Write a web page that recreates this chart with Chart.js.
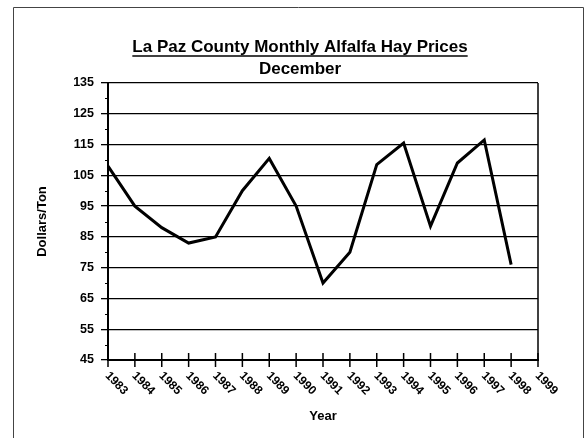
<!DOCTYPE html>
<html>
<head>
<meta charset="utf-8">
<script src="https://cdn.jsdelivr.net/npm/chart.js@4/dist/chart.umd.min.js"></script>
<style>
  html, body { margin: 0; padding: 0; background: #fff; }
  #wrap { width: 585px; height: 438px; }
</style>
</head>
<body>
<div id="wrap"><canvas id="hayChart" width="585" height="438"></canvas></div>
<script>
const years = ["1983", "1984", "1985", "1986", "1987", "1988", "1989", "1990", "1991",
  "1992", "1993", "1994", "1995", "1996", "1997", "1998", "1999"];
const prices = [108, 95, 88, 83, 85, 100, 110.5, 95, 70, 80, 108.5, 115.5, 88.5, 109, 116.5, 76, null];
const yMin = 45;
const yMax = 135;
const yStep = 10;

const titleText = "La Paz County Monthly Alfalfa Hay Prices";
const subtitleText = "December";
const yTitle = "Dollars/Ton";
const xTitle = "Year";
const font = "'Liberation Sans', Arial, sans-serif";

// frame, titles, minor ticks, x tick marks and rotated year labels
const decorPlugin = {
  id: "decor",
  beforeDraw(chart) {
    const ctx = chart.ctx;
    ctx.save();
    ctx.strokeStyle = "#444";
    ctx.lineWidth = 1;
    ctx.beginPath();
    ctx.moveTo(13.5, 438);
    ctx.lineTo(13.5, 7.5);
    ctx.lineTo(583.5, 7.5);
    ctx.lineTo(583.5, 438);
    ctx.stroke();
    ctx.restore();
  },
  afterDraw(chart) {
    const ctx = chart.ctx;
    const area = chart.chartArea;
    const x = chart.scales.x;
    const y = chart.scales.y;
    ctx.save();
    ctx.fillStyle = "#000";
    ctx.strokeStyle = "#000";

    // right border
    ctx.lineWidth = 1.5;
    ctx.beginPath();
    ctx.moveTo(area.right, area.top);
    ctx.lineTo(area.right, area.bottom);
    ctx.stroke();

    // minor ticks on the y axis
    ctx.lineWidth = 1;
    ctx.beginPath();
    for (let v = yMin + 5; v < yMax; v += yStep) {
      const py = Math.round(y.getPixelForValue(v)) + 0.5;
      ctx.moveTo(area.left - 3, py);
      ctx.lineTo(area.left, py);
    }
    ctx.stroke();

    // x tick marks crossing the axis
    ctx.lineWidth = 1.5;
    ctx.beginPath();
    years.forEach((yr, i) => {
      const px = x.getPixelForValue(i);
      ctx.moveTo(px, area.bottom - 7);
      ctx.lineTo(px, area.bottom + 7);
    });
    ctx.stroke();

    // rotated year labels
    ctx.font = "bold 12px " + font;
    ctx.textAlign = "left";
    ctx.textBaseline = "middle";
    years.forEach((yr, i) => {
      const px = x.getPixelForValue(i);
      ctx.save();
      ctx.translate(px - 1, area.bottom + 14);
      ctx.rotate(Math.PI / 4);
      ctx.fillText(yr, 0, 0);
      ctx.restore();
    });

    // titles
    ctx.textAlign = "center";
    ctx.textBaseline = "alphabetic";
    ctx.font = "bold 17px " + font;
    const cx = 300;
    ctx.fillText(titleText, cx, 52);
    const w = ctx.measureText(titleText).width;
    ctx.lineWidth = 1.5;
    ctx.beginPath();
    ctx.moveTo(cx - w / 2, 56);
    ctx.lineTo(cx + w / 2, 56);
    ctx.stroke();
    ctx.fillText(subtitleText, cx, 74);

    ctx.font = "bold 13px " + font;
    ctx.textBaseline = "middle";
    ctx.fillText(xTitle, (area.left + area.right) / 2, 416);
    ctx.save();
    ctx.translate(42, (area.top + area.bottom) / 2);
    ctx.rotate(-Math.PI / 2);
    ctx.fillText(yTitle, 0, 0);
    ctx.restore();

    ctx.restore();
  }
};

new Chart(document.getElementById("hayChart"), {
  type: "line",
  data: {
    labels: years,
    datasets: [{
      label: "December price",
      data: prices,
      borderColor: "#000",
      borderWidth: 3,
      pointRadius: 0,
      tension: 0,
      spanGaps: false
    }]
  },
  options: {
    responsive: false,
    animation: false,
    layout: { padding: { top: 83, right: 47, left: 0, bottom: 0 } },
    plugins: {
      legend: { display: false },
      tooltip: { enabled: false },
      title: { display: false }
    },
    scales: {
      x: {
        type: "category",
        offset: false,
        grid: { display: false },
        border: { color: "#000", width: 2 },
        ticks: { display: false },
        afterFit(scale) { scale.height = 78; }
      },
      y: {
        min: yMin,
        max: yMax,
        grid: { color: "#000", lineWidth: 1.3, tickLength: 7 },
        border: { color: "#000", width: 2 },
        ticks: {
          stepSize: yStep,
          color: "#000",
          padding: 7,
          font: { family: font, size: 12.5, weight: "bold" }
        },
        afterFit(scale) { scale.width = 108; }
      }
    }
  },
  plugins: [decorPlugin]
});
</script>
</body>
</html>
